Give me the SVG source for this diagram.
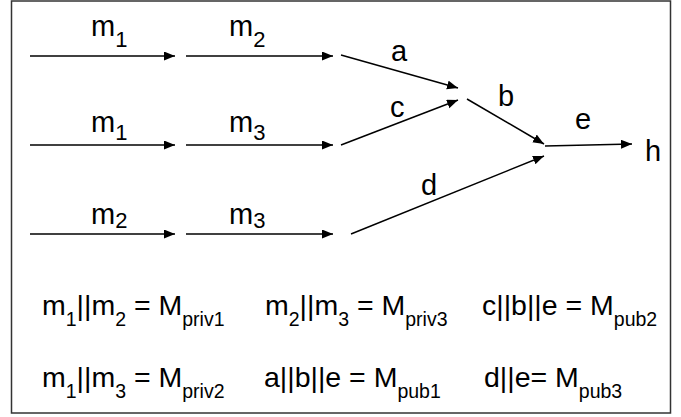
<svg xmlns="http://www.w3.org/2000/svg" width="681" height="417" viewBox="0 0 681 417">
<defs>
<marker id="ah" markerUnits="userSpaceOnUse" markerWidth="12" markerHeight="10" refX="11" refY="4.5" orient="auto">
<path d="M0,0 L11,4.5 L0,9 z" fill="#000"/>
</marker>
<style>
.t{font-family:"Liberation Sans",Arial,sans-serif;fill:#000}
.L{font-size:29px}
.s{font-size:22px}
.F{font-size:28.5px}
.fs{font-size:19.5px}
.c{stroke:#000;stroke-width:1.5;fill:none;marker-end:url(#ah)}
</style>
</defs>
<rect x="0" y="0" width="681" height="417" fill="#fff"/>
<rect x="11.5" y="1" width="659" height="412" fill="none" stroke="#333" stroke-width="1.5"/>
<g id="connectors">
<line class="c" x1="30" y1="56" x2="175" y2="56"/>
<line class="c" x1="186" y1="56" x2="333" y2="56"/>
<line class="c" x1="30" y1="145" x2="175" y2="145"/>
<line class="c" x1="186" y1="145" x2="333" y2="145"/>
<line class="c" x1="30" y1="234" x2="175" y2="234"/>
<line class="c" x1="186" y1="234" x2="333" y2="234"/>
<line class="c" x1="341" y1="55" x2="458" y2="88"/>
<line class="c" x1="341" y1="145" x2="458" y2="100"/>
<line class="c" x1="467" y1="99" x2="544" y2="144"/>
<line class="c" x1="545" y1="146" x2="632" y2="144"/>
<line class="c" x1="351" y1="234" x2="544" y2="156"/>
</g>
<g id="labels">
<text class="t L" x="91" y="36">m<tspan class="s" dy="11">1</tspan></text>
<text class="t L" x="229" y="36">m<tspan class="s" dy="11">2</tspan></text>
<text class="t L" x="91" y="132">m<tspan class="s" dy="8">1</tspan></text>
<text class="t L" x="229" y="132">m<tspan class="s" dy="8">3</tspan></text>
<text class="t L" x="91" y="224">m<tspan class="s" dy="4">2</tspan></text>
<text class="t L" x="229" y="224">m<tspan class="s" dy="4">3</tspan></text>
<text class="t L" x="391" y="61">a</text>
<text class="t L" x="390" y="117">c</text>
<text class="t L" x="498" y="106">b</text>
<text class="t L" x="575" y="129">e</text>
<text class="t L" x="421" y="195">d</text>
<text class="t L" x="645" y="161">h</text>
</g>
<g id="formulas">
<text class="t F" x="42" y="315">m<tspan class="fs" dy="11">1</tspan><tspan dy="-11">||m</tspan><tspan class="fs" dy="11">2</tspan><tspan dy="-11"> = M</tspan><tspan class="fs" dy="11">priv1</tspan></text>
<text class="t F" x="265" y="315">m<tspan class="fs" dy="11">2</tspan><tspan dy="-11">||m</tspan><tspan class="fs" dy="11">3</tspan><tspan dy="-11"> = M</tspan><tspan class="fs" dy="11">priv3</tspan></text>
<text class="t F" x="482" y="315">c||b||e = M<tspan class="fs" dy="11">pub2</tspan></text>
<text class="t F" x="42" y="387">m<tspan class="fs" dy="11">1</tspan><tspan dy="-11">||m</tspan><tspan class="fs" dy="11">3</tspan><tspan dy="-11"> = M</tspan><tspan class="fs" dy="11">priv2</tspan></text>
<text class="t F" x="264" y="387">a||b||e = M<tspan class="fs" dy="11">pub1</tspan></text>
<text class="t F" x="484" y="387">d||e= M<tspan class="fs" dy="11">pub3</tspan></text>
</g>
</svg>
